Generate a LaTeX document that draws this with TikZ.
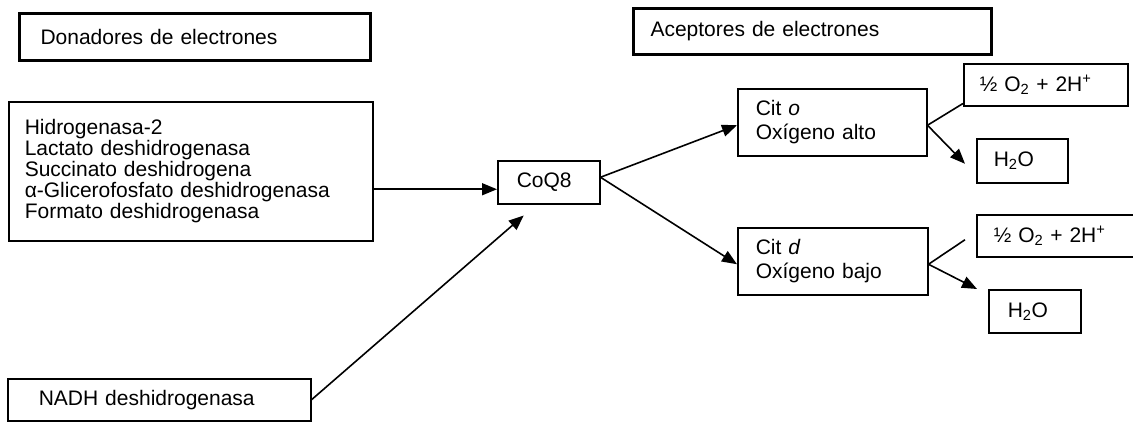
\documentclass[tikz,border=0pt]{standalone}
\usepackage{fontspec}
\setmainfont{Liberation Sans}
\usetikzlibrary{positioning}
\usetikzlibrary{arrows.meta}

\begin{document}
\begin{tikzpicture}[x=1pt,y=-1pt,font=\fontsize{21}{21}\selectfont]

          \tikzstyle{headBox} = [draw, line width=3pt, anchor=north west, align=left, inner ysep=0pt];
          \tikzstyle{normalBox} = [draw, line width=1.5pt, anchor=north west, align=left, inner ysep=0pt];
          \tikzstyle{citFont} = [font=\fontsize{21}{24}\selectfont];

          \tikzstyle{normalEdge} = [line width=1.6pt];
          \tikzstyle{arrowEdge} = [line width=1.6pt, -{Triangle[length=15pt,width=12pt]}];

          \useasboundingbox (0,0) rectangle (1133,421);

          % encabezados
          \node[headBox, minimum height=47pt, inner xsep=21pt, text width=309pt] (donadores) at (18,12) {Donadores de electrones};
          \node[headBox, minimum height=46pt, inner xsep=17pt, text width=324pt] (aceptores) at (632,7) {Aceptores de electrones};

          % donadores
          \node[normalBox, minimum height=139pt, inner xsep=16pt, text width=332pt] (lista) at (8,101) {Hidrogenasa-2\\Lactato deshidrogenasa\\Succinato deshidrogena\\α-Glicerofosfato deshidrogenasa\\Formato deshidrogenasa};
          \node[normalBox, minimum height=42pt, inner xsep=31pt, text width=241pt] (nadh) at (7,378) {NADH deshidrogenasa};
          \node[normalBox, minimum height=43pt, inner xsep=19pt, text width=64pt] (coq) at (497,160) {CoQ8};

          % aceptores
          \node[normalBox, citFont, minimum height=67pt, inner xsep=18pt, text width=153pt] (cito) at (737,88) {Cit \textit{o}\\Oxígeno alto};
          \node[normalBox, citFont, minimum height=67pt, inner xsep=18pt, text width=154pt] (citd) at (737,227) {Cit \textit{d}\\Oxígeno bajo};
          \node[normalBox, minimum height=42pt, inner xsep=16pt, text width=132pt] (oxa) at (963,63) {½ O\textsubscript{2} + 2H\textsuperscript{+}};
          \node[normalBox, minimum height=44pt, inner xsep=17pt, text width=57pt] (aguaa) at (976,138) {H\textsubscript{2}O};
          \node[normalBox, minimum height=42pt, inner xsep=17pt, text width=130pt] (oxb) at (976,214) {½ O\textsubscript{2} + 2H\textsuperscript{+}};
          \node[normalBox, minimum height=43pt, inner xsep=19pt, text width=54pt] (aguab) at (988,289) {H\textsubscript{2}O};

          \coordinate (nadhTip) at ([xshift=-25pt,yshift=-11pt]coq.south);
          \coordinate (aguaaTip) at ([xshift=-11pt,yshift=-3pt]aguaa.west);
          \coordinate (oxbEnd) at ([xshift=-11pt,yshift=-4pt]oxb.west);
          \coordinate (aguabTip) at ([xshift=-11pt]aguab.north west);

          \draw[arrowEdge] ([yshift=-7pt]coq.west -| lista.east) -- ([yshift=-7pt]coq.west);
          \draw[arrowEdge] (nadh.east) -- (nadhTip);
          \draw[arrowEdge] ([yshift=5pt]coq.east) -- ([yshift=-3pt]cito.west);
          \draw[arrowEdge] ([yshift=5pt]coq.east) -- ([yshift=-3pt]citd.west);
          \draw[normalEdge] ([yshift=-3pt]cito.east) -- ([yshift=3pt]oxa.south west);
          \draw[arrowEdge] ([yshift=-3pt]cito.east) -- (aguaaTip);
          \draw[normalEdge] ([yshift=-3pt]citd.east) -- (oxbEnd);
          \draw[arrowEdge] ([yshift=-3pt]citd.east) -- (aguabTip);
        \end{tikzpicture}
\end{document}
